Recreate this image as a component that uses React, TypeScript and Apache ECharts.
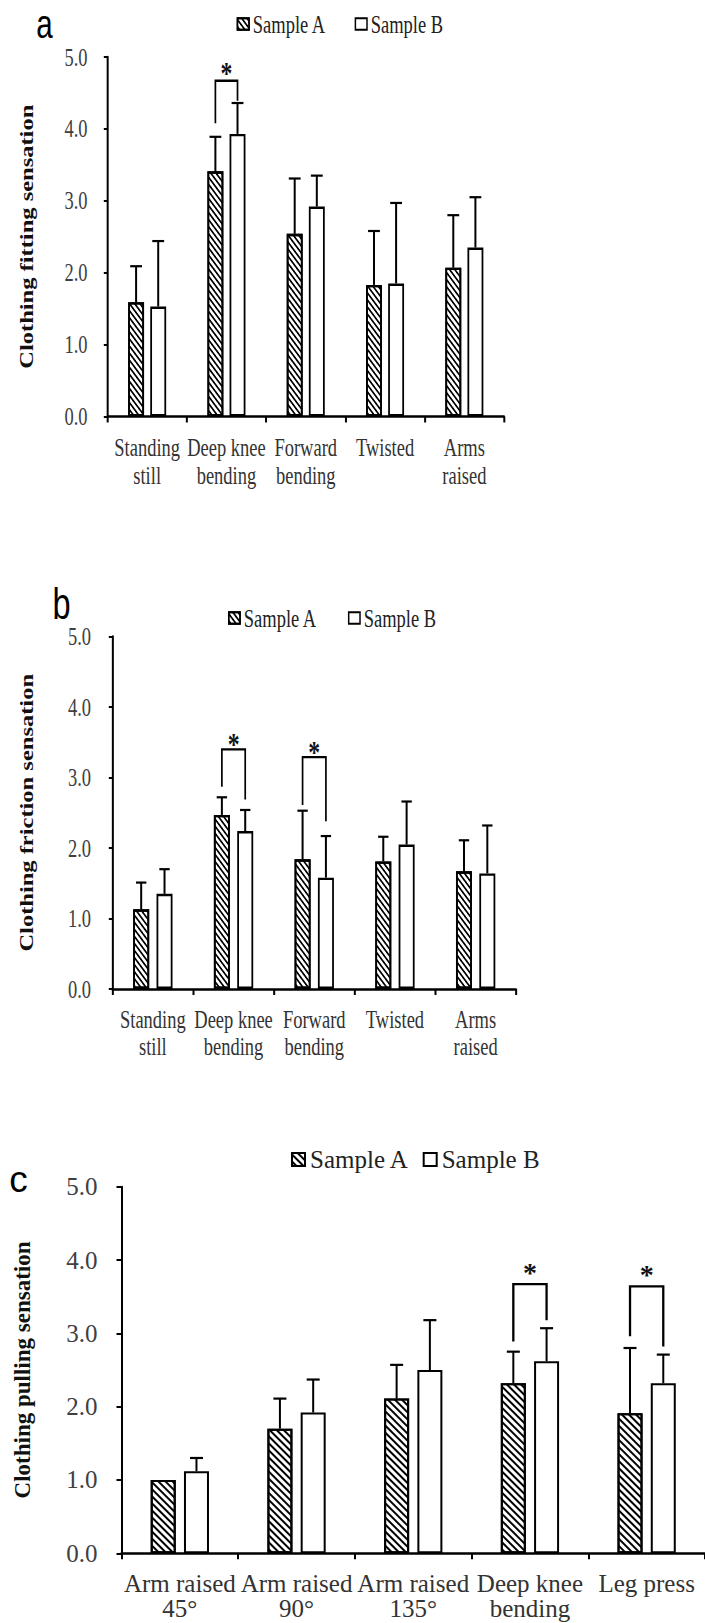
import React, { useEffect, useRef } from 'react';
import * as echarts from 'echarts';

const SERIF = '"Liberation Serif", "Times New Roman", Times, serif';
const SANS = '"Liberation Sans", Arial, sans-serif';

// ---------- data: panel a (fitting) ----------
const catsFit = ['Standing\nstill', 'Deep knee\nbending', 'Forward\nbending', 'Twisted', 'Arms\nraised'];
const fitMeanA = [1.59, 3.41, 2.54, 1.83, 2.07];
const fitMeanB = [1.53, 3.93, 2.92, 1.85, 2.35];
const fitSdA = [0.5, 0.48, 0.77, 0.75, 0.73];
const fitSdB = [0.91, 0.43, 0.43, 1.12, 0.7];
// [category index, left leg bottom, right leg bottom, bracket top]
const fitSig = [[1, 4.08, 4.39, 4.67]];

// ---------- data: panel b (friction) ----------
const catsFric = ['Standing\nstill', 'Deep knee\nbending', 'Forward\nbending', 'Twisted', 'Arms\nraised'];
const fricMeanA = [1.13, 2.47, 1.84, 1.81, 1.67];
const fricMeanB = [1.35, 2.24, 1.58, 2.05, 1.64];
const fricSdA = [0.38, 0.25, 0.69, 0.35, 0.44];
const fricSdB = [0.35, 0.3, 0.59, 0.61, 0.68];
const fricSig = [
  [1, 2.87, 2.69, 3.4],
  [2, 2.61, 2.38, 3.29],
];

// ---------- data: panel c (pulling) ----------
const catsPull = ['Arm raised\n45°', 'Arm raised\n90°', 'Arm raised\n135°', 'Deep knee\nbending', 'Leg press'];
const pullMeanA = [1.0, 1.7, 2.11, 2.32, 1.91];
const pullMeanB = [1.12, 1.92, 2.5, 2.62, 2.32];
const pullSdA = [0, 0.41, 0.46, 0.43, 0.89];
const pullSdB = [0.18, 0.45, 0.68, 0.45, 0.39];
const pullSig = [
  [3, 2.89, 3.18, 3.67],
  [4, 2.96, 2.82, 3.64],
];

const seriesNames = ['Sample A', 'Sample B'];
const yMin = 0;
const yMax = 5;
const yStep = 1;

type PanelCfg = {
  cats: string[];
  meanA: number[];
  meanB: number[];
  sdA: number[];
  sdB: number[];
  sig: number[][];
  yName: string;
  letter: string;
  grid: { left: number; top: number; width: number; height: number };
  barWidth: number;
  barGap: number;
  border: number;
  font: number;
  lineHeight: number;
  xMargin: number;
  yMargin: number;
  nameGap: number;
  nameSize: number;
  legend: { left: number; top: number; itemWidth: number; itemHeight: number; itemGap: number };
  letterX: number;
  letterY: number;
  letterSize: number;
  capW: number;
  errW: number;
  starSize: number;
  starOff: number;
  tickW: number;
  yAxisW: number;
  hatch: number[];
};

function makeOption(c: PanelCfg) {
  const off = (c.barWidth * (1 + c.barGap / 100)) / 2;
  const hatch = {
    symbol: 'rect',
    symbolSize: 1,
    dashArrayX: [1, 0],
    dashArrayY: c.hatch,
    rotation: Math.PI / 4,
    color: '#000',
  };
  const errSeries = (means: number[], sds: number[], sign: number) => ({
    type: 'custom',
    silent: true,
    z: 5,
    data: means.map((m, i) => [i, m, sds[i]]),
    encode: { x: 0, y: 1 },
    renderItem: (_p: any, api: any) => {
      const i = api.value(0);
      const m = api.value(1);
      const sd = api.value(2);
      if (!sd) return { type: 'group', children: [] };
      const p0 = api.coord([i, m]);
      const p1 = api.coord([i, m + sd]);
      const x = p0[0] + sign * off;
      return {
        type: 'group',
        children: [
          { type: 'line', shape: { x1: x, y1: p0[1], x2: x, y2: p1[1] }, style: { stroke: '#000', lineWidth: c.errW } },
          {
            type: 'line',
            shape: { x1: x - c.capW / 2, y1: p1[1], x2: x + c.capW / 2, y2: p1[1] },
            style: { stroke: '#000', lineWidth: 2.2 },
          },
        ],
      };
    },
  });
  return {
    animation: false,
    backgroundColor: 'transparent',
    grid: { ...c.grid, containLabel: false },
    legend: {
      data: seriesNames,
      left: c.legend.left,
      top: c.legend.top,
      padding: 0,
      itemWidth: c.legend.itemWidth,
      itemHeight: c.legend.itemHeight,
      itemGap: c.legend.itemGap,
      icon: 'rect',
      selectedMode: false,
      itemStyle: { borderColor: '#000', borderWidth: 2 },
      textStyle: { fontFamily: SERIF, fontSize: c.font, lineHeight: 26, color: '#222' },
    },
    graphic: [
      {
        type: 'text',
        x: c.letterX,
        y: c.letterY,
        silent: true,
        style: {
          text: c.letter,
          fontFamily: SANS,
          fontSize: c.letterSize,
          fill: '#000',
          align: 'center',
          verticalAlign: 'middle',
        },
      },
    ],
    xAxis: {
      type: 'category',
      data: c.cats,
      axisLine: { show: true, lineStyle: { color: '#000', width: 2.5 } },
      axisTick: { show: true, interval: 0, length: 6, lineStyle: { color: '#000', width: c.tickW } },
      axisLabel: {
        interval: 0,
        fontFamily: SERIF,
        fontSize: c.font,
        lineHeight: c.lineHeight,
        color: '#333',
        margin: c.xMargin,
      },
      splitLine: { show: false },
    },
    yAxis: {
      type: 'value',
      min: yMin,
      max: yMax,
      interval: yStep,
      axisLine: { show: true, lineStyle: { color: '#000', width: c.yAxisW } },
      axisTick: { show: true, length: 5, lineStyle: { color: '#000', width: 2 } },
      axisLabel: {
        formatter: (v: number) => v.toFixed(1),
        fontFamily: SERIF,
        fontSize: c.font,
        color: '#404040',
        margin: c.yMargin,
      },
      splitLine: { show: false },
      name: c.yName,
      nameLocation: 'middle',
      nameGap: c.nameGap,
      nameTextStyle: {
        fontFamily: SERIF,
        fontWeight: 'bold',
        fontSize: c.nameSize,
        lineHeight: c.nameSize,
        color: '#111',
      },
    },
    series: [
      {
        type: 'bar',
        name: seriesNames[0],
        data: c.meanA,
        barWidth: c.barWidth,
        barGap: c.barGap + '%',
        silent: true,
        itemStyle: { color: '#fff', borderColor: '#000', borderWidth: c.border, decal: hatch },
      },
      {
        type: 'bar',
        name: seriesNames[1],
        data: c.meanB,
        barWidth: c.barWidth,
        barGap: c.barGap + '%',
        silent: true,
        itemStyle: { color: '#fff', borderColor: '#000', borderWidth: c.border },
      },
      errSeries(c.meanA, c.sdA, -1),
      errSeries(c.meanB, c.sdB, 1),
      {
        type: 'custom',
        silent: true,
        z: 6,
        data: c.sig,
        encode: { x: 0, y: [1, 2, 3] },
        renderItem: (_p: any, api: any) => {
          const i = api.value(0);
          const pL = api.coord([i, api.value(1)]);
          const pR = api.coord([i, api.value(2)]);
          const pT = api.coord([i, api.value(3)]);
          const xL = pL[0] - off;
          const xR = pL[0] + off;
          return {
            type: 'group',
            children: [
              {
                type: 'polyline',
                shape: { points: [[xL, pL[1]], [xL, pT[1]], [xR, pT[1]], [xR, pR[1]]] },
                style: { stroke: '#000', lineWidth: 2.3, fill: null },
              },
              {
                type: 'text',
                x: (xL + xR) / 2,
                y: pT[1] - c.starOff,
                style: {
                  text: '*',
                  fontFamily: SERIF,
                  fontWeight: 'bold',
                  fontSize: c.starSize,
                  fill: '#111',
                  align: 'center',
                  verticalAlign: 'middle',
                },
              },
            ],
          };
        },
      },
    ],
  };
}

const S = 0.74; // horizontal squeeze of panels a and b

const cfgA: PanelCfg = {
  cats: catsFit,
  meanA: fitMeanA,
  meanB: fitMeanB,
  sdA: fitSdA,
  sdB: fitSdB,
  sig: fitSig,
  yName: 'Clothing fitting sensation',
  letter: 'a',
  grid: { left: 107.5 / S, top: 57, width: 396.5 / S, height: 359.5 },
  barWidth: 21.5,
  barGap: 39,
  border: 2.4,
  font: 25,
  lineHeight: 28,
  xMargin: 17,
  yMargin: 27,
  nameGap: 96,
  nameSize: 24.5,
  legend: { left: 236.7 / S, top: 11, itemWidth: 15.7, itemHeight: 11.6, itemGap: 38.4 },
  letterX: 44.5 / S,
  letterY: 23.5,
  letterSize: 40,
  capW: 16,
  errW: 2.7,
  starSize: 32,
  starOff: 8,
  tickW: 2.7,
  yAxisW: 2.7,
  hatch: [1.1, 2.7],
};

const cfgB: PanelCfg = {
  cats: catsFric,
  meanA: fricMeanA,
  meanB: fricMeanB,
  sdA: fricSdA,
  sdB: fricSdB,
  sig: fricSig,
  yName: 'Clothing friction sensation',
  letter: 'b',
  grid: { left: 112.5 / S, top: 116.6, width: 403.5 / S, height: 352.9 },
  barWidth: 21.6,
  barGap: 46,
  border: 2.4,
  font: 25,
  lineHeight: 27,
  xMargin: 17,
  yMargin: 29,
  nameGap: 103,
  nameSize: 24.5,
  legend: { left: 228 / S, top: 85, itemWidth: 15.3, itemHeight: 11.3, itemGap: 41.5 },
  letterX: 61.5 / S,
  letterY: 84,
  letterSize: 44,
  capW: 14,
  errW: 2.7,
  starSize: 32,
  starOff: 5,
  tickW: 2.7,
  yAxisW: 2.7,
  hatch: [1.1, 2.7],
};

const cfgC: PanelCfg = {
  cats: catsPull,
  meanA: pullMeanA,
  meanB: pullMeanB,
  sdA: pullSdA,
  sdB: pullSdB,
  sig: pullSig,
  yName: 'Clothing pulling sensation',
  letter: 'c',
  grid: { left: 121.5, top: 126.7, width: 584, height: 366.6 },
  barWidth: 25,
  barGap: 33,
  border: 2,
  font: 25,
  lineHeight: 25.5,
  xMargin: 17,
  yMargin: 24,
  nameGap: 87.5,
  nameSize: 23,
  legend: { left: 291, top: 86.5, itemWidth: 13, itemHeight: 13, itemGap: 13.4 },
  letterX: 18.5,
  letterY: 119.5,
  letterSize: 37,
  capW: 13,
  errW: 2,
  starSize: 28,
  starOff: 12,
  tickW: 2,
  yAxisW: 2,
  hatch: [1.2, 3],
};

function Panel({ cfg, top, height, scale }: { cfg: PanelCfg; top: number; height: number; scale: number }) {
  const ref = useRef<HTMLDivElement>(null);
  useEffect(() => {
    if (!ref.current) return;
    const chart = echarts.init(ref.current, undefined, { renderer: 'svg' });
    chart.setOption(makeOption(cfg) as any);
    return () => chart.dispose();
  }, [cfg]);
  return (
    <div
      ref={ref}
      style={{
        position: 'absolute',
        left: 0,
        top,
        width: 705 / scale,
        height,
        transform: `scaleX(${scale})`,
        transformOrigin: '0 0',
      }}
    />
  );
}

export default function App() {
  return (
    <div
      style={{
        position: 'absolute',
        left: 0,
        top: 0,
        width: 705,
        height: 1623,
        background: '#fff',
        overflow: 'hidden',
      }}
    >
      <Panel cfg={cfgA} top={0} height={520} scale={S} />
      <Panel cfg={cfgB} top={520} height={540} scale={S} />
      <Panel cfg={cfgC} top={1060} height={563} scale={1} />
    </div>
  );
}
